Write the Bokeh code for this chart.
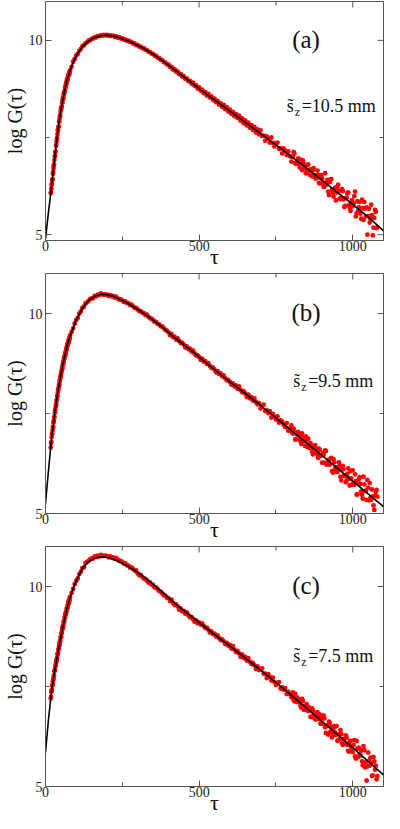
from bokeh.plotting import figure
from bokeh.models import FixedTicker, LinearAxis, Label, Range1d
from bokeh.layouts import column
from bokeh.embed import file_html
from bokeh.resources import INLINE

FONT = "Liberation Serif"

# ---------------- data ----------------
x_ticks = [0, 500, 1000]
x_minor = [250, 750]
y_ticks = [5, 10]
y_minor = [7.5]

panel_tags = ["(a)", "(b)", "(c)"]
sz_values = ["=10.5 mm", "=9.5 mm", "=7.5 mm"]
x_title = "τ"
y_title = "log G(τ)"

# sampled time lags of the measured points
tau_rise = list(range(17, 80))                  # 63 lags on the steep rise
tau_main = list(range(80, 1081, 5))             # 201 lags
tau_extra = [802.5 + 5 * k for k in range(56)]  # additional lags in the noisy tail

# fitted curve (black line) knots
fit_tau = [0, 10, 20, 30, 40, 50, 60, 70, 80, 90, 100, 120, 140, 160, 180, 200, 220, 240, 260, 280,
           300, 320, 340, 360, 380, 400, 420, 440, 460, 480, 500, 550, 600, 650, 700, 750, 800, 850,
           900, 950, 1000, 1050, 1100]
fit_a = [4.90, 5.60, 6.25, 6.98, 7.65, 8.20, 8.62, 8.97, 9.22, 9.44, 9.60, 9.84, 9.98, 10.07, 10.12,
         10.13, 10.11, 10.07, 10.01, 9.95, 9.87, 9.79, 9.69, 9.59, 9.48, 9.36, 9.24, 9.12, 9.00, 8.88,
         8.76, 8.47, 8.18, 7.89, 7.60, 7.31, 7.01, 6.71, 6.40, 6.09, 5.78, 5.46, 5.10]
fit_b = [5.25, 6.10, 6.90, 7.50, 8.02, 8.47, 8.85, 9.17, 9.44, 9.64, 9.84, 10.13, 10.32, 10.43, 10.48,
         10.47, 10.43, 10.36, 10.29, 10.20, 10.10, 10.00, 9.89, 9.78, 9.66, 9.53, 9.40, 9.28, 9.16, 9.04,
         8.91, 8.60, 8.29, 8.00, 7.70, 7.39, 7.08, 6.76, 6.45, 6.13, 5.81, 5.49, 5.17]
fit_c = [5.85, 6.70, 7.40, 7.90, 8.32, 8.74, 9.12, 9.45, 9.72, 9.95, 10.14, 10.45, 10.62, 10.71, 10.74,
         10.73, 10.69, 10.62, 10.54, 10.45, 10.35, 10.24, 10.12, 9.99, 9.86, 9.72, 9.59, 9.46, 9.34, 9.22,
         9.10, 8.80, 8.51, 8.21, 7.91, 7.60, 7.28, 6.96, 6.63, 6.30, 5.97, 5.63, 5.29]

# ---- measured points (red), panel (a) ----
rise_a = [
    6.07, 6.09, 6.19, 6.29, 6.30, 6.40, 6.43, 6.57, 6.61, 6.71,
    6.78, 6.81, 6.92, 7.02, 7.03, 7.12, 7.14, 7.28, 7.31, 7.40,
    7.47, 7.49, 7.59, 7.69, 7.69, 7.77, 7.78, 7.91, 7.92, 8.00,
    8.06, 8.06, 8.16, 8.24, 8.22, 8.29, 8.29, 8.40, 8.40, 8.47,
    8.51, 8.51, 8.59, 8.66, 8.64, 8.69, 8.69, 8.79, 8.79, 8.85,
    8.89, 8.87, 8.95, 9.01, 8.97, 9.02, 9.00, 9.10, 9.09, 9.14,
    9.16, 9.14, 9.20]
logG_a = [
    9.23, 9.32, 9.45, 9.52, 9.61, 9.65, 9.73, 9.78,
    9.85, 9.87, 9.92, 9.95, 9.99, 10.00, 10.04, 10.05, 10.08, 10.08,
    10.11, 10.11, 10.13, 10.12, 10.14, 10.13, 10.14, 10.12, 10.13, 10.11,
    10.12, 10.09, 10.10, 10.07, 10.08, 10.05, 10.05, 10.02, 10.02, 9.99,
    9.99, 9.96, 9.96, 9.92, 9.92, 9.88, 9.88, 9.84, 9.84, 9.80,
    9.80, 9.76, 9.75, 9.71, 9.70, 9.66, 9.65, 9.61, 9.60, 9.55,
    9.54, 9.50, 9.49, 9.44, 9.43, 9.38, 9.38, 9.32, 9.32, 9.25,
    9.26, 9.19, 9.20, 9.13, 9.14, 9.07, 9.08, 9.01, 9.02, 8.95,
    8.96, 8.89, 8.91, 8.83, 8.85, 8.76, 8.79, 8.71, 8.73, 8.64,
    8.67, 8.58, 8.62, 8.53, 8.56, 8.47, 8.50, 8.41, 8.44, 8.35,
    8.38, 8.29, 8.34, 8.23, 8.28, 8.17, 8.22, 8.11, 8.16, 8.05,
    8.10, 8.00, 8.06, 7.93, 7.99, 7.87, 7.94, 7.81, 7.88, 7.75,
    7.82, 7.70, 7.77, 7.63, 7.71, 7.58,
    7.68, 7.54, 7.55, 7.42, 7.53, 7.47, 7.37, 7.50, 7.36, 7.27,
    7.35, 7.37, 7.21, 7.22, 7.09, 7.22, 7.16, 7.05, 7.14, 7.02,
    6.88, 7.01, 7.09, 6.82, 6.91, 6.81, 6.93, 6.66, 6.83, 6.74,
    6.65, 6.81, 6.54, 6.67, 6.66, 6.53, 6.44, 6.65, 6.33, 6.46,
    6.45, 6.23, 6.58, 6.29, 6.11, 6.35, 6.43, 6.08, 6.15, 5.88,
    6.23, 6.13, 5.91, 6.17, 5.91, 5.74, 5.95, 6.09, 5.70, 5.83,
    5.73, 5.99, 5.47, 5.86, 5.70, 5.54, 5.90, 5.38, 5.67, 5.70,
    5.48, 5.31, 5.77, 4.98, 5.43, 5.59, 5.19]
extra_a = [
    7.00, 7.13, 6.84, 6.86, 6.96, 6.73, 6.85, 6.91, 6.72, 6.58,
    6.79, 6.65, 6.68, 6.50, 6.71, 6.48, 6.51, 6.54, 6.32, 6.53,
    6.31, 6.23, 6.34, 6.41, 6.02, 6.42, 6.15, 5.98, 6.21, 6.08,
    6.29, 5.93, 5.96, 6.12, 5.71, 5.94, 6.06, 5.76, 5.61, 5.89,
    5.81, 6.11, 5.55, 5.61, 5.84, 5.41, 5.68, 5.84, 5.47, 5.00,
    5.67, 5.41, 5.50, 5.18, 5.64, 5.17]

# ---- panel (b) ----
rise_b = [
    6.65, 6.76, 6.79, 6.91, 6.99, 7.00, 7.08, 7.16, 7.16, 7.27,
    7.31, 7.40, 7.41, 7.51, 7.58, 7.58, 7.66, 7.73, 7.72, 7.82,
    7.85, 7.94, 7.94, 8.03, 8.10, 8.09, 8.16, 8.22, 8.21, 8.30,
    8.33, 8.40, 8.40, 8.48, 8.54, 8.53, 8.58, 8.64, 8.62, 8.71,
    8.73, 8.79, 8.78, 8.86, 8.91, 8.89, 8.95, 9.00, 8.97, 9.05,
    9.06, 9.13, 9.11, 9.18, 9.23, 9.20, 9.25, 9.30, 9.27, 9.34,
    9.35, 9.41, 9.38]
logG_b = [
    9.46, 9.54, 9.63, 9.75, 9.84, 9.89, 10.00, 10.05,
    10.14, 10.17, 10.25, 10.28, 10.31, 10.36, 10.38, 10.38, 10.44, 10.43,
    10.47, 10.46, 10.50, 10.48, 10.47, 10.48, 10.47, 10.44, 10.46, 10.43,
    10.44, 10.40, 10.42, 10.38, 10.35, 10.35, 10.33, 10.29, 10.30, 10.26,
    10.26, 10.21, 10.22, 10.18, 10.14, 10.14, 10.10, 10.06, 10.06, 10.02,
    10.01, 9.96, 9.97, 9.92, 9.88, 9.87, 9.84, 9.79, 9.79, 9.74,
    9.73, 9.68, 9.68, 9.63, 9.59, 9.57, 9.53, 9.46, 9.49, 9.41,
    9.42, 9.35, 9.38, 9.31, 9.26, 9.27, 9.22, 9.15, 9.18, 9.11,
    9.12, 9.05, 9.08, 9.00, 8.95, 8.96, 8.91, 8.84, 8.87, 8.80,
    8.81, 8.74, 8.76, 8.69, 8.64, 8.65, 8.60, 8.53, 8.56, 8.49,
    8.50, 8.43, 8.45, 8.38, 8.33, 8.34, 8.29, 8.22, 8.25, 8.18,
    8.20, 8.12, 8.18, 8.09, 8.03, 8.06, 8.00, 7.91, 7.97, 7.88,
    7.91, 7.82, 7.88, 7.79, 7.73, 7.76,
    7.63, 7.69, 7.72, 7.56, 7.58, 7.51, 7.56, 7.40, 7.49, 7.42,
    7.35, 7.43, 7.27, 7.33, 7.30, 7.22, 7.16, 7.26, 7.07, 7.13,
    7.20, 7.00, 7.03, 6.85, 7.03, 6.95, 6.80, 7.00, 6.81, 6.69,
    6.82, 6.87, 6.64, 6.67, 6.48, 6.69, 6.62, 6.47, 6.62, 6.45,
    6.27, 6.46, 6.58, 6.22, 6.34, 6.22, 6.39, 6.02, 6.28, 6.16,
    6.04, 6.28, 5.92, 6.10, 6.11, 5.95, 5.83, 6.13, 5.70, 5.88,
    6.08, 5.72, 5.81, 5.48, 5.86, 5.74, 5.47, 5.92, 5.56, 5.34,
    5.64, 5.76, 5.34, 5.43, 5.09, 5.54, 5.42]
extra_b = [
    7.03, 7.12, 6.85, 6.98, 7.04, 6.85, 6.74, 6.90, 6.81, 6.93,
    6.66, 6.67, 6.76, 6.55, 6.65, 6.71, 6.53, 6.39, 6.59, 6.45,
    6.50, 6.27, 6.56, 6.25, 6.31, 6.36, 6.06, 6.36, 6.11, 6.04,
    6.14, 6.20, 5.83, 6.19, 5.94, 5.78, 5.99, 5.87, 6.06, 5.72,
    5.77, 5.98, 5.47, 5.76, 5.91, 5.55, 5.37, 5.73, 5.57, 5.84,
    5.33, 5.39, 5.60, 5.20, 5.44, 5.59]

# ---- panel (c) ----
rise_c = [
    7.20, 7.24, 7.36, 7.40, 7.42, 7.52, 7.54, 7.62, 7.69, 7.68,
    7.76, 7.78, 7.88, 7.90, 7.91, 8.00, 8.02, 8.09, 8.15, 8.13,
    8.20, 8.22, 8.31, 8.32, 8.33, 8.42, 8.44, 8.51, 8.57, 8.55,
    8.62, 8.64, 8.73, 8.74, 8.75, 8.84, 8.84, 8.91, 8.97, 8.95,
    9.02, 9.02, 9.11, 9.12, 9.12, 9.21, 9.21, 9.27, 9.33, 9.30,
    9.36, 9.36, 9.45, 9.45, 9.45, 9.52, 9.52, 9.58, 9.63, 9.59,
    9.65, 9.65, 9.72]
logG_c = [
    9.74, 9.84, 9.94, 10.06, 10.14, 10.20, 10.31, 10.37,
    10.46, 10.48, 10.59, 10.61, 10.64, 10.68, 10.70, 10.70, 10.75, 10.74,
    10.77, 10.75, 10.79, 10.77, 10.76, 10.77, 10.76, 10.73, 10.75, 10.72,
    10.73, 10.69, 10.71, 10.67, 10.64, 10.64, 10.61, 10.57, 10.58, 10.53,
    10.52, 10.47, 10.48, 10.44, 10.40, 10.40, 10.33, 10.28, 10.29, 10.24,
    10.20, 10.19, 10.15, 10.10, 10.10, 10.05, 10.04, 9.98, 9.98, 9.93,
    9.89, 9.87, 9.83, 9.78, 9.77, 9.72, 9.71, 9.64, 9.67, 9.59,
    9.54, 9.55, 9.50, 9.42, 9.45, 9.38, 9.39, 9.32, 9.35, 9.28,
    9.23, 9.24, 9.19, 9.12, 9.15, 9.08, 9.10, 9.05, 9.08, 9.01,
    8.96, 8.97, 8.92, 8.85, 8.88, 8.81, 8.82, 8.75, 8.78, 8.71,
    8.66, 8.68, 8.63, 8.56, 8.59, 8.52, 8.54, 8.45, 8.51, 8.42,
    8.36, 8.39, 8.33, 8.24, 8.30, 8.21, 8.24, 8.15, 8.21, 8.12,
    8.06, 8.09, 8.03, 7.94, 8.00, 7.91,
    7.94, 7.95, 7.82, 7.82, 7.71, 7.81, 7.74, 7.65, 7.72, 7.61,
    7.54, 7.59, 7.61, 7.45, 7.48, 7.42, 7.46, 7.31, 7.37, 7.31,
    7.23, 7.35, 7.13, 7.22, 7.22, 7.11, 7.02, 7.19, 6.92, 7.02,
    7.06, 6.89, 6.90, 6.74, 6.90, 6.83, 6.68, 6.86, 6.69, 6.57,
    6.71, 6.78, 6.48, 6.53, 6.30, 6.59, 6.49, 6.30, 6.51, 6.29,
    6.14, 6.31, 6.41, 6.08, 6.19, 6.08, 6.22, 5.89, 6.12, 6.00,
    5.86, 6.16, 5.70, 5.95, 5.97, 5.77, 5.63, 6.01, 5.48, 5.15,
    5.85, 5.52, 5.59, 5.28, 5.63, 5.52, 5.26]
extra_c = [
    7.30, 7.16, 7.32, 7.11, 7.13, 7.16, 6.97, 7.14, 6.97, 6.91,
    6.96, 6.98, 6.74, 6.95, 6.79, 6.68, 6.78, 6.70, 6.80, 6.58,
    6.57, 6.70, 6.34, 6.53, 6.62, 6.37, 6.23, 6.46, 6.35, 6.51,
    6.16, 6.19, 6.31, 6.04, 6.19, 6.28, 6.04, 5.87, 6.14, 5.96,
    6.04, 5.75, 6.14, 5.74, 5.81, 5.90, 5.53, 5.91, 5.60, 5.50,
    5.64, 5.72, 5.26, 5.74, 5.42, 5.18]

y_bottoms = [4.85, 5.0, 5.0]
y_top = 11.0
x_max = 1100

AX = "#555555"
TXT = "#111111"

FRAME_W = 342
BORDER_L, BORDER_R, BORDER_B = 41, 1, 31
MAJOR_IN, MINOR_IN = 6, 4


def style_axis(ax, ticks, minor):
    ax.ticker = FixedTicker(ticks=ticks, minor_ticks=minor)
    ax.major_tick_in = MAJOR_IN
    ax.major_tick_out = 0
    ax.minor_tick_in = MINOR_IN
    ax.minor_tick_out = 0
    ax.axis_line_color = AX
    ax.major_tick_line_color = AX
    ax.minor_tick_line_color = AX
    ax.major_label_text_font = FONT
    ax.major_label_text_font_size = "14px"
    ax.major_label_text_color = "#222222"


def pts(p, xs, ys):
    n = min(len(xs), len(ys))
    p.scatter(xs[:n], ys[:n], size=4.8, fill_color="#ff0000", line_color=None)


def mirror_ticks(p, y0, frame_h):
    # inward ticks on the top and right edges, derived from the tick lists and ranges
    dy_major = MAJOR_IN * (y_top - y0) / frame_h
    dy_minor = MINOR_IN * (y_top - y0) / frame_h
    dx_major = MAJOR_IN * x_max / FRAME_W
    dx_minor = MINOR_IN * x_max / FRAME_W
    p.segment(x0=x_ticks, y0=[y_top] * len(x_ticks), x1=x_ticks,
              y1=[y_top - dy_major] * len(x_ticks), line_color=AX, line_width=1)
    p.segment(x0=x_minor, y0=[y_top] * len(x_minor), x1=x_minor,
              y1=[y_top - dy_minor] * len(x_minor), line_color=AX, line_width=1)
    p.segment(x0=[x_max] * len(y_ticks), y0=y_ticks, x1=[x_max - dx_major] * len(y_ticks),
              y1=y_ticks, line_color=AX, line_width=1)
    p.segment(x0=[x_max] * len(y_minor), y0=y_minor, x1=[x_max - dx_minor] * len(y_minor),
              y1=y_minor, line_color=AX, line_width=1)


def make_panel(i, fit_y, y_rise, y_main, y_extra, top_border, fh, sz_left):
    p = figure(width=BORDER_L + FRAME_W + BORDER_R, height=top_border + fh + BORDER_B,
               output_backend="svg", toolbar_location=None,
               x_range=Range1d(0, x_max), y_range=Range1d(y_bottoms[i], y_top),
               min_border_left=BORDER_L, min_border_right=BORDER_R, min_border_top=top_border,
               min_border_bottom=BORDER_B, x_axis_location=None, y_axis_location=None,
               background_fill_color="white", border_fill_color="white")
    p.outline_line_color = AX
    p.xgrid.visible = False
    p.ygrid.visible = False

    xb = LinearAxis(axis_label=x_title)
    style_axis(xb, x_ticks, x_minor)
    xb.major_label_standoff = 0
    xb.axis_label_text_font = FONT
    xb.axis_label_text_font_size = "22px"
    xb.axis_label_text_font_style = "normal"
    xb.axis_label_text_color = TXT
    xb.axis_label_standoff = -10
    p.add_layout(xb, "below")

    yl = LinearAxis(axis_label=y_title)
    style_axis(yl, y_ticks, y_minor)
    yl.major_label_standoff = 3
    yl.axis_label_text_font = FONT
    yl.axis_label_text_font_size = "20px"
    yl.axis_label_text_font_style = "normal"
    yl.axis_label_text_color = TXT
    yl.axis_label_standoff = 0
    p.add_layout(yl, "left")

    mirror_ticks(p, y_bottoms[i], fh)

    pts(p, tau_rise, y_rise)
    pts(p, tau_main, y_main)
    pts(p, tau_extra, y_extra)
    p.line(fit_tau, fit_y, line_color="black", line_width=1.6)

    p.add_layout(Label(x=848, y=10.02, text=panel_tags[i], text_align="center",
                       text_baseline="middle", text_font=FONT, text_font_size="25px",
                       text_color=TXT))
    ybase = [8.30, 8.31, 8.27][i]
    p.add_layout(Label(x=sz_left, y=ybase, text="s\u0303", text_baseline="alphabetic",
                       text_font=FONT, text_font_size="18px", text_color=TXT))
    p.add_layout(Label(x=sz_left, y=ybase, x_offset=8, y_offset=-6, text="z",
                       text_baseline="alphabetic", text_font=FONT, text_font_size="12px",
                       text_color=TXT))
    p.add_layout(Label(x=sz_left, y=ybase, x_offset=15, text=sz_values[i],
                       text_baseline="alphabetic", text_font=FONT, text_font_size="18px",
                       text_color=TXT))
    return p


pa = make_panel(0, fit_a, rise_a, logG_a, extra_a, 1, 239, 785)
pb = make_panel(1, fit_b, rise_b, logG_b, extra_b, 2, 240, 806)
pc = make_panel(2, fit_c, rise_c, logG_c, extra_c, 2, 240, 806)

layout = column(pa, pb, pc, spacing=0)
open("out.html", "w").write(file_html(layout, INLINE))
